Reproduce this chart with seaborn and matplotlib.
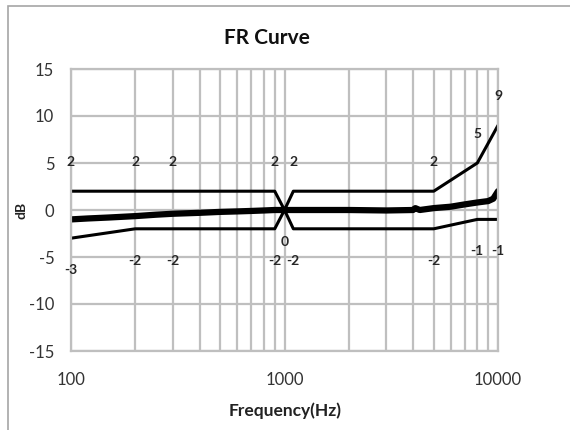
import numpy as np
import pandas as pd
import matplotlib
matplotlib.use("Agg")
import matplotlib.pyplot as plt
import seaborn as sns
from matplotlib.ticker import LogLocator, FixedLocator, NullFormatter

# limit lines (upper / lower) and measured response
upper_f = [100, 200, 300, 900, 1000, 1100, 5000, 8000, 10000]
upper_db = [2, 2, 2, 2, 0, 2, 2, 5, 9]
lower_f = [100, 200, 300, 900, 1000, 1100, 5000, 8000, 10000]
lower_db = [-3, -2, -2, -2, 0, -2, -2, -1, -1]
resp_f = [100, 120, 150, 200, 250, 300, 400, 500, 600, 700, 800, 900, 1000,
          1500, 2000, 3000, 4000, 4100, 4300, 5000, 6000, 7000, 8000, 9000, 9500, 10000]
resp_db = [-1.0, -0.9, -0.8, -0.65, -0.5, -0.4, -0.3, -0.2, -0.15, -0.1, -0.05, 0, 0,
           0, 0, -0.05, 0, 0.2, 0, 0.2, 0.35, 0.6, 0.8, 0.95, 1.2, 2.0]
# which limit points carry a data label
upper_lbl = [True, True, True, True, False, True, True, True, True]
lower_lbl = [True, True, True, True, True, True, True, True, True]

sns.set_theme(style="white")
plt.rcParams['font.family'] = ['Lato', 'DejaVu Sans']
plt.rcParams['axes.unicode_minus'] = False

fig = plt.figure(figsize=(5.7, 4.3), dpi=100)
ax = fig.add_axes([71/570, 1-351/430, 427/570, 282/430])

grid_c = '#bfbfbf'
sns.lineplot(x=upper_f, y=upper_db, ax=ax, color='black', lw=2.2)
sns.lineplot(x=lower_f, y=lower_db, ax=ax, color='black', lw=2.2)
sns.lineplot(x=resp_f, y=resp_db, ax=ax, color='black', lw=4.5)

ax.set_xscale('log')
ax.set_xlim(100, 10000)
ax.set_ylim(-15, 15)
ax.set_yticks([-15, -10, -5, 0, 5, 10, 15])
ax.xaxis.set_major_locator(FixedLocator([100, 1000, 10000]))
ax.xaxis.set_minor_locator(LogLocator(base=10, subs=np.arange(2, 10)))
ax.xaxis.set_minor_formatter(NullFormatter())
ax.set_xticklabels(['100', '1000', '10000'])
ax.grid(True, which='both', axis='x', color=grid_c, lw=1.6)
ax.grid(True, which='major', axis='y', color=grid_c, lw=1.6)
ax.set_axisbelow(True)
for s in ax.spines.values():
    s.set_color(grid_c)
    s.set_linewidth(1.6)
ax.tick_params(axis='both', length=0, labelsize=12, labelcolor='#333333')
ax.tick_params(axis='x', pad=15)
ax.tick_params(axis='y', pad=12)

for f, d, show in zip(upper_f, upper_db, upper_lbl):
    if show:
        ax.annotate(str(d), (f, d), xytext=(0, 21), textcoords='offset points',
                    ha='center', va='center', fontsize=10, fontweight='bold')
for f, d, show in zip(lower_f, lower_db, lower_lbl):
    if show:
        ax.annotate(str(d), (f, d), xytext=(0, -23), textcoords='offset points',
                    ha='center', va='center', fontsize=10, fontweight='bold')

fig.text(285/570, 1-411/430, 'Frequency(Hz)', ha='center', va='center',
         fontsize=12.5, fontweight='bold', color='#222222')
fig.text(22/570, 1-210/430, 'dB', ha='center', va='center', rotation=90,
         fontsize=10, fontweight='bold', color='#222222')
fig.text(267/570, 1-38/430, 'FR Curve', ha='center', va='center',
         fontsize=15, fontweight='bold', color='#111111')

# chart border
fig.patches.append(plt.Rectangle((8/570, -0.05), 1.1, 1-6/430+0.05,
                                 transform=fig.transFigure, fill=False,
                                 edgecolor='#a6a6a6', lw=1.2))

fig.savefig('out.png', dpi=100)
